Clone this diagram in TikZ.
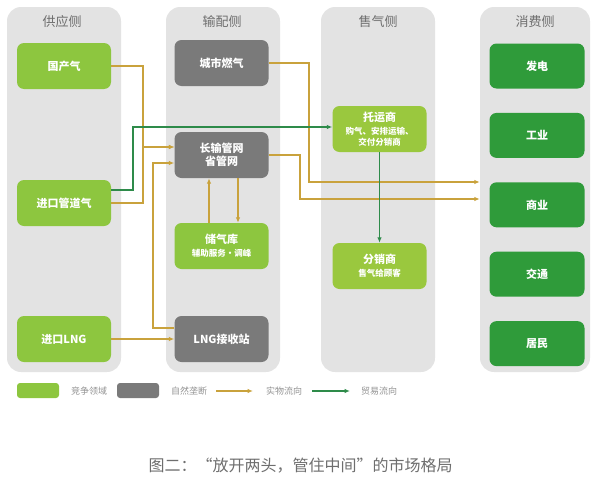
\documentclass[tikz,border=0pt]{standalone}
\usepackage{fontspec}
\setmainfont{Noto Sans CJK SC}
\usepackage{tikz}
\usepackage{xcolor}
\usetikzlibrary{arrows.meta,positioning}
\definecolor{panelgray}{HTML}{E3E3E3}
\definecolor{compgreen}{HTML}{8DC63F}
\definecolor{sellgreen}{HTML}{9AC83E}
\definecolor{monogray}{HTML}{7A7A7A}
\definecolor{usergreen}{HTML}{2F9B3A}
\definecolor{physgold}{HTML}{C9A23C}
\definecolor{tradeline}{HTML}{2E8B4A}
\definecolor{labelgray}{HTML}{6E6E6E}
\newcommand{\nodesub}[1]{{\fontsize{8.5}{10}\selectfont #1}}

\begin{document}
\begin{tikzpicture}[
x=1pt, y=-1pt,
node distance=24pt,
panel/.style={fill=panelgray, rounded corners=14pt, minimum width=114pt, minimum height=365pt, inner sep=0pt},
coltitle/.style={text=labelgray, font=\fontsize{13}{13}\selectfont},
block/.style={rounded corners=7pt, minimum width=94pt, minimum height=46pt, align=center, text=white, font=\bfseries\fontsize{11}{13}\selectfont, inner sep=2pt},
comp/.style={block, fill=compgreen},
sell/.style={block, fill=sellgreen},
mono/.style={block, fill=monogray},
user/.style={block, fill=usergreen, minimum width=95pt, minimum height=45pt},
flow/.style={-{Latex[length=5.5pt,width=4.5pt]}, physgold, line width=1.1pt},
trade/.style={-{Latex[length=5.5pt,width=4.5pt]}, tradeline, line width=1.1pt},
keybox/.style={rounded corners=3pt, minimum width=42pt, minimum height=15pt, inner sep=0pt},
keytext/.style={text=labelgray!75, font=\fontsize{9}{9}\selectfont}
]
\useasboundingbox (0,0) rectangle (597,482);

\node[panel] (p1) at (64,189.5) {};
\node[panel] (p2) at (223,189.5) {};
\node[panel] (p3) at (378,189.5) {};
\node[panel, minimum width=110pt] (p4) at (535,189.5) {};
\node[coltitle] (t1) at (62,22) {供应侧};
\node[coltitle] (t2) at (222,22) {输配侧};
\node[coltitle] (t3) at (378,22) {售气侧};
\node[coltitle] (t4) at (535,22) {消费侧};

\node[comp] (gcq) at (64,66) {国产气};
\node[comp] (jkgd) at (64,203) {进口管道气};
\node[comp] (jklng) at (64,339) {进口LNG};

\node[mono] (csrq) at (221.5,63) {城市燃气};
\node[mono] (cs) at (221.5,155) {长输管网\\省管网};
\node[comp] (cqk) at (221.5,246) {储气库\\\nodesub{辅助服务·调峰}};
\node[mono] (lngz) at (221.5,339) {LNG接收站};

\node[sell] (tys) at (379.5,129) {托运商\\\nodesub{购气、安排运输、}\\[-2pt]\nodesub{交付分销商}};
\node[sell] (fxs) at (379.5,266) {分销商\\\nodesub{售气给顾客}};

\node[user] (fd) at (537,66) {发电};
\node[user, below=of fd] (gy) {工业};
\node[user, below=of gy] (sy) {商业};
\node[user, below=of sy] (jt) {交通};
\node[user, below=of jt] (jm) {居民};

\coordinate (jx1) at (143,147);
\coordinate (jx2) at (153,163);
\coordinate (jx3) at (309,182);
\coordinate (jx4) at (300,199);
\coordinate (jx5) at (133,127);

\draw[flow] (gcq.east) -| (jx1) -- (jx1 -| cs.west);
\draw[flow] (jkgd.east) -| (jx1) -- (jx1 -| cs.west);
\draw[flow] ([yshift=11pt]lngz.west) -| (jx2) -- (jx2 -| cs.west);
\draw[flow] (jklng) -- (lngz);
\draw[flow] ([xshift=-12.5pt]cqk.north) -- ([xshift=-12.5pt]cs.south);
\draw[flow] ([xshift=16.5pt]cs.south) -- ([xshift=16.5pt]cqk.north);
\draw[flow] (csrq.east) -| (jx3) -- (jx3 -| p4.west);
\draw[flow] (cs.east) -| (jx4) -- (jx4 -| p4.west);
\draw[trade] ([yshift=13pt]jkgd.east) -| (jx5) -- (jx5 -| tys.west);
\draw[trade] (tys) -- (fxs);

\node[keybox, fill=compgreen] (k1) at (38,390.5) {};
\node[keytext] (k1t) at (89,391) {竞争领域};
\node[keybox, fill=monogray] (k2) at (138,390.5) {};
\node[keytext] (k2t) at (189,391) {自然垄断};
\coordinate (ka1) at (216,391);
\coordinate (ka2) at (253,391);
\draw[flow] (ka1) -- (ka2);
\node[keytext] (k3t) at (284,391) {实物流向};
\coordinate (kb1) at (312,391);
\coordinate (kb2) at (350,391);
\draw[trade] (kb1) -- (kb2);
\node[keytext] (k4t) at (379,391) {贸易流向};

\node[text=labelgray, font=\fontsize{16}{16}\selectfont] (cap) at (300.5,466) {图二：“放开两头，管住中间”的市场格局};
\end{tikzpicture}
\end{document}
